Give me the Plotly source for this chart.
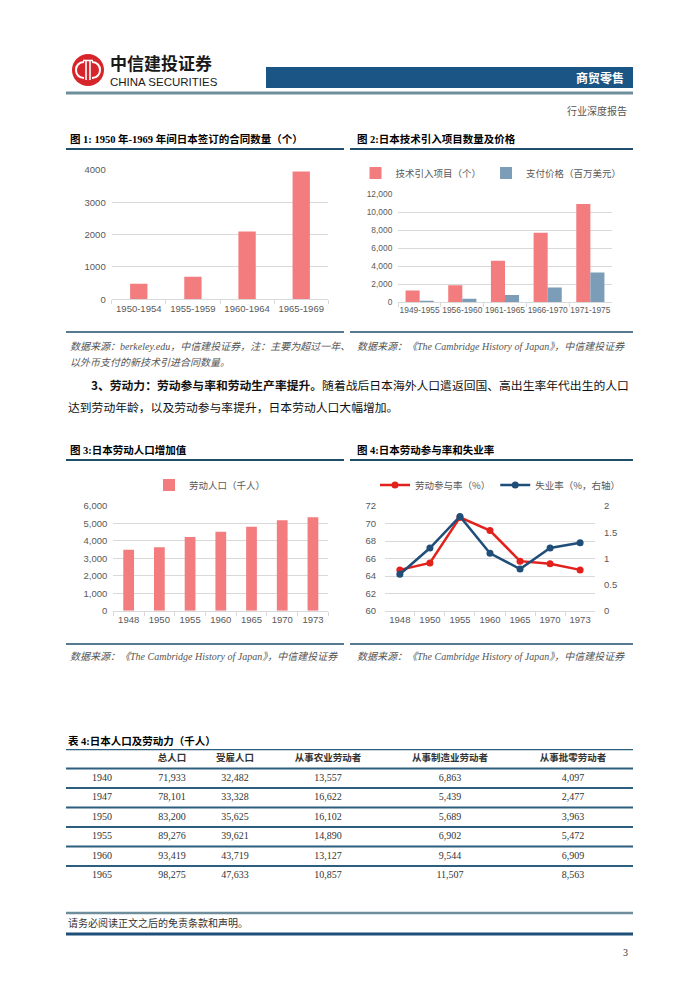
import plotly.graph_objects as go

# ---------------- data ----------------
c1_periods = ["1950-1954", "1955-1959", "1960-1964", "1965-1969"]
c1_contracts = [480, 700, 2100, 3950]

c2_periods = ["1949-1955", "1956-1960", "1961-1965", "1966-1970", "1971-1975"]
c2_projects = [1300, 1900, 4600, 7700, 10900]
c2_payment = [180, 400, 800, 1650, 3300]

c3_years = ["1948", "1950", "1955", "1960", "1965", "1970", "1973"]
c3_labor = [3500, 3630, 4220, 4530, 4810, 5180, 5360]

c4_years = ["1948", "1950", "1955", "1960", "1965", "1970", "1973"]
c4_participation = [64.7, 65.5, 70.7, 69.2, 65.7, 65.4, 64.7]
c4_unemployment = [0.70, 1.20, 1.80, 1.10, 0.80, 1.20, 1.30]

t_header = ["总人口", "受雇人口", "从事农业劳动者", "从事制造业劳动者", "从事批零劳动者"]
t_years = ["1940", "1947", "1950", "1955", "1960", "1965"]
t_total = [71933, 78101, 83200, 89276, 93419, 98275]
t_employed = [32482, 33328, 35625, 39621, 43719, 47633]
t_agri = [13557, 16622, 16102, 14890, 13127, 10857]
t_manuf = [6863, 5439, 5689, 6902, 9544, 11507]
t_retail = [4097, 2477, 3963, 5472, 6909, 8563]

# ---------------- layout constants ----------------
W, H = 700, 990
COL_X = [102, 172, 235, 328, 450, 573]          # table column centres (px)
TABLE_TOP, ROW_H = 749, 19.5

RED = "#F27C7E"
BLUE_BAR = "#7C9DB8"
LINE_RED = "#E3211C"
LINE_BLUE = "#1F4E79"
GRID = "#D9D9D9"
TICK = "#595959"
RULE = "#1F4E6B"
SANS = "Liberation Sans, Arial, Noto Sans CJK SC"
CJK = "Noto Sans CJK SC"
SERIF = "Liberation Serif, Noto Sans CJK SC"
TICKFONT = dict(family=SANS, size=9.5, color=TICK)
TICKFONT_SMALL = dict(family=SANS, size=8.4, color=TICK)


def dom_x(a, b):
    return [a / W, b / W]


def dom_y(top, bottom):
    return [1 - bottom / H, 1 - top / H]


fig = go.Figure()

# chart 1
fig.add_trace(go.Bar(x=c1_periods, y=c1_contracts, marker=dict(color=RED, line=dict(width=0)),
                     width=0.32, xaxis="x", yaxis="y", showlegend=False, hoverinfo="skip"))
# chart 2
fig.add_trace(go.Bar(x=c2_periods, y=c2_projects, name="技术引入项目（个）",
                     marker=dict(color=RED, line=dict(width=0)), width=0.33, offset=-0.33,
                     xaxis="x2", yaxis="y2", legend="legend", hoverinfo="skip"))
fig.add_trace(go.Bar(x=c2_periods, y=c2_payment, name="支付价格（百万美元）",
                     marker=dict(color=BLUE_BAR, line=dict(width=0)), width=0.33, offset=0,
                     xaxis="x2", yaxis="y2", legend="legend", hoverinfo="skip"))
# chart 3
fig.add_trace(go.Bar(x=c3_years, y=c3_labor, name="劳动人口（千人）",
                     marker=dict(color=RED, line=dict(width=0)), width=0.35,
                     xaxis="x3", yaxis="y3", legend="legend2", showlegend=True, hoverinfo="skip"))
# chart 4
fig.add_trace(go.Scatter(x=c4_years, y=c4_participation, name="劳动参与率（%）", mode="lines+markers",
                         line=dict(color=LINE_RED, width=2.5), marker=dict(size=7, color=LINE_RED),
                         xaxis="x4", yaxis="y4", legend="legend3", hoverinfo="skip"))
fig.add_trace(go.Scatter(x=c4_years, y=c4_unemployment, name="失业率（%，右轴）", mode="lines+markers",
                         line=dict(color=LINE_BLUE, width=2.5), marker=dict(size=7, color=LINE_BLUE),
                         xaxis="x4", yaxis="y5", legend="legend3", hoverinfo="skip"))

# table (row index axis)
cols = [t_years] + [[f"{v:,}" for v in c] for c in (t_total, t_employed, t_agri, t_manuf, t_retail)]
tx, ty, tt = [], [], []
for ci, col in enumerate(cols):
    for ri, v in enumerate(col):
        tx.append(COL_X[ci])
        ty.append(ri + 1)
        tt.append(v)
fig.add_trace(go.Scatter(x=COL_X[1:], y=[0] * len(t_header), text=[f"<b>{h}</b>" for h in t_header],
                         mode="text", textposition="middle center",
                         textfont=dict(family=CJK, size=9.5, color="#333333"),
                         xaxis="x5", yaxis="y6", showlegend=False, hoverinfo="skip"))
fig.add_trace(go.Scatter(x=tx, y=ty, text=tt, mode="text", textposition="middle center",
                         textfont=dict(family=SERIF, size=10, color="#333333"),
                         xaxis="x5", yaxis="y6", showlegend=False, hoverinfo="skip"))
# page axis anchor trace
fig.add_trace(go.Scatter(x=[0], y=[0], mode="markers", marker=dict(opacity=0), xaxis="x6", yaxis="y7",
                         showlegend=False, hoverinfo="skip"))


def cat_x(dom, anchor, font=TICKFONT):
    return dict(domain=dom, anchor=anchor, type="category", showgrid=False, showline=True,
                linecolor=GRID, linewidth=1, ticks="outside", tickson="boundaries", ticklen=4,
                tickcolor=GRID, tickfont=font, tickangle=0, zeroline=False, automargin=False,
                fixedrange=True)


def val_y(dom, anchor, rng, dtick, fmt="", standoff=5, font=TICKFONT):
    return dict(domain=dom, anchor=anchor, range=rng, dtick=dtick, tick0=rng[0], tickformat=fmt,
                showgrid=True, gridcolor=GRID, gridwidth=1, zeroline=False, showline=False, ticks="",
                tickfont=font, ticklabelstandoff=standoff, automargin=False, fixedrange=True)


hidden = dict(visible=False, showgrid=False, zeroline=False, automargin=False, fixedrange=True)

fig.update_layout(
    template="none",
    width=W, height=H, autosize=False,
    margin=dict(l=0, r=0, t=0, b=0),
    paper_bgcolor="white", plot_bgcolor="rgba(0,0,0,0)",
    barmode="group",
    xaxis=cat_x(dom_x(111.7, 328.3), "y"),
    yaxis=val_y(dom_y(170, 299.3), "x", [0, 4000], 1000),
    xaxis2=cat_x(dom_x(398.3, 611.7), "y2", TICKFONT_SMALL),
    yaxis2=val_y(dom_y(194, 302.3), "x2", [0, 12000], 2000, ",", 5, TICKFONT_SMALL),
    xaxis3=cat_x(dom_x(113.3, 328.3), "y3"),
    yaxis3=val_y(dom_y(506, 610.7), "x3", [0, 6000], 1000, ","),
    xaxis4=cat_x(dom_x(385, 595), "y4"),
    yaxis4=val_y(dom_y(506, 611), "x4", [60, 72], 2, "", 8),
    yaxis5=dict(overlaying="y4", side="right", anchor="x4", range=[0, 2], dtick=0.5, tick0=0,
                showgrid=False, zeroline=False, showline=False, ticks="", tickfont=TICKFONT,
                ticklabelstandoff=8, automargin=False, fixedrange=True),
    xaxis5=dict(domain=[0, 1], anchor="y6", range=[0, W], **hidden),
    yaxis6=dict(domain=dom_y(TABLE_TOP, TABLE_TOP + 7 * ROW_H), anchor="x5", range=[6.5, -0.5], **hidden),
    xaxis6=dict(domain=[0, 1], anchor="y7", range=[0, W], **hidden),
    yaxis7=dict(domain=[0, 1], anchor="x6", range=[H, 0], **hidden),
    legend=dict(x=491 / W, y=1 - 173 / H, xanchor="center", yanchor="middle", orientation="h",
                font=dict(family=CJK, size=9.5, color=TICK), bgcolor="rgba(0,0,0,0)",
                itemwidth=30, itemclick=False, itemdoubleclick=False),
    legend2=dict(x=210 / W, y=1 - 485 / H, xanchor="center", yanchor="middle", orientation="h",
                 font=dict(family=CJK, size=9.5, color=TICK), bgcolor="rgba(0,0,0,0)",
                 itemwidth=30, itemclick=False, itemdoubleclick=False),
    legend3=dict(x=500 / W, y=1 - 485 / H, xanchor="center", yanchor="middle", orientation="h",
                 font=dict(family=CJK, size=9.5, color=TICK), bgcolor="rgba(0,0,0,0)",
                 itemwidth=30, itemclick=False, itemdoubleclick=False),
)


def pline(x0, x1, y, color, width, xref="x6", yref="y7"):
    fig.add_shape(type="line", x0=x0, x1=x1, y0=y, y1=y, xref=xref, yref=yref,
                  line=dict(color=color, width=width))


def txt(x, y, s, size, color="#000000", family=CJK, xanchor="left"):
    fig.add_annotation(x=x, y=y, xref="x6", yref="y7", text=s, showarrow=False, xanchor=xanchor,
                       yanchor="middle", font=dict(family=family, size=size, color=color))


# ---- header ----
fig.add_shape(type="circle", x0=72, x1=104, y0=54, y1=86, xref="x6", yref="y7",
              fillcolor="#D6262C", line=dict(width=0))
fig.add_shape(type="path", xref="x6", yref="y7", path="M 84,62 C 73.3,62 73.3,78 84,78",
              line=dict(color="white", width=2))
fig.add_shape(type="path", xref="x6", yref="y7", path="M 92,62 C 102.7,62 102.7,78 92,78",
              line=dict(color="white", width=2))
for xv in (86, 90):
    fig.add_shape(type="line", xref="x6", yref="y7", x0=xv, x1=xv, y0=61, y1=80,
                  line=dict(color="white", width=1.6))
fig.add_shape(type="line", xref="x6", yref="y7", x0=83, x1=93, y0=60.5, y1=60.5,
              line=dict(color="white", width=1.6))
txt(108, 62.5, "<b>中信建投证券</b>", 17, "#1a1a1a")
txt(108, 82, "CHINA SECURITIES", 11.5, "#1a1a1a", "Liberation Sans, Arial")
fig.add_shape(type="rect", x0=266, x1=633, y0=67, y1=88, xref="x6", yref="y7",
              fillcolor="#1A5585", line=dict(width=0))
txt(626, 77.5, "<b>商贸零售</b>", 12, "white", CJK, "right")
pline(66, 633, 93, "#6E8E9C", 3)
txt(629, 111, "行业深度报告", 10, "#555555", SERIF, "right")

# ---- chart titles ----
txt(68, 139, "<b>图 1: 1950 年-1969 年间日本签订的合同数量（个）</b>", 10.5, "#000000", SERIF)
txt(355, 139, "<b>图 2:日本技术引入项目数量及价格</b>", 10.5, "#000000", SERIF)
pline(66, 344, 149, RULE, 2)
pline(350, 633, 149, RULE, 2)

# ---- sources row 1 ----
pline(66, 344, 332, RULE, 1.5)
pline(350, 633, 332, RULE, 1.5)
txt(68, 346, "<i>数据来源：berkeley.edu，中信建投证券，注：主要为超过一年、</i>", 10, "#555555", SERIF)
txt(68, 362, "<i>以外币支付的新技术引进合同数量。</i>", 10, "#555555", SERIF)
txt(355, 346, "<i>数据来源：《The Cambridge History of Japan》，中信建投证券</i>", 10, "#555555", SERIF)

# ---- paragraph ----
txt(89, 384, "<b>3、劳动力：劳动参与率和劳动生产率提升。</b>随着战后日本海外人口遣返回国、高出生率年代出生的人口",
    11.8, "#111111", CJK)
txt(66, 406, "达到劳动年龄，以及劳动参与率提升，日本劳动人口大幅增加。", 11.8, "#111111", CJK)

# ---- charts 3/4 titles ----
txt(68, 450, "<b>图 3:日本劳动人口增加值</b>", 10.5, "#000000", SERIF)
txt(355, 450, "<b>图 4:日本劳动参与率和失业率</b>", 10.5, "#000000", SERIF)
pline(66, 344, 460, RULE, 2)
pline(350, 633, 460, RULE, 2)
pline(66, 344, 644, RULE, 1.5)
pline(350, 633, 644, RULE, 1.5)
txt(68, 656, "<i>数据来源：《The Cambridge History of Japan》，中信建投证券</i>", 10, "#555555", SERIF)
txt(355, 656, "<i>数据来源：《The Cambridge History of Japan》，中信建投证券</i>", 10, "#555555", SERIF)

# ---- table ----
txt(66, 741, "<b>表 4:日本人口及劳动力（千人）</b>", 10.5, "#000000", SERIF)
for i in range(len(t_years) + 1):
    pline(66, 633, i - 0.5, "#2E5E7E", 2.5 if i == 0 else 2, xref="x5", yref="y6")

# ---- footer ----
pline(66, 633, 913, "#6E8E9C", 2.5)
txt(66, 923, "请务必阅读正文之后的免责条款和声明。", 10, "#333333", SERIF)
pline(66, 633, 934, LINE_BLUE, 3)
txt(630, 952, "3", 10, "#333333", SERIF, "right")

fig.write_html("out.html", config={"displayModeBar": False, "staticPlot": True})
